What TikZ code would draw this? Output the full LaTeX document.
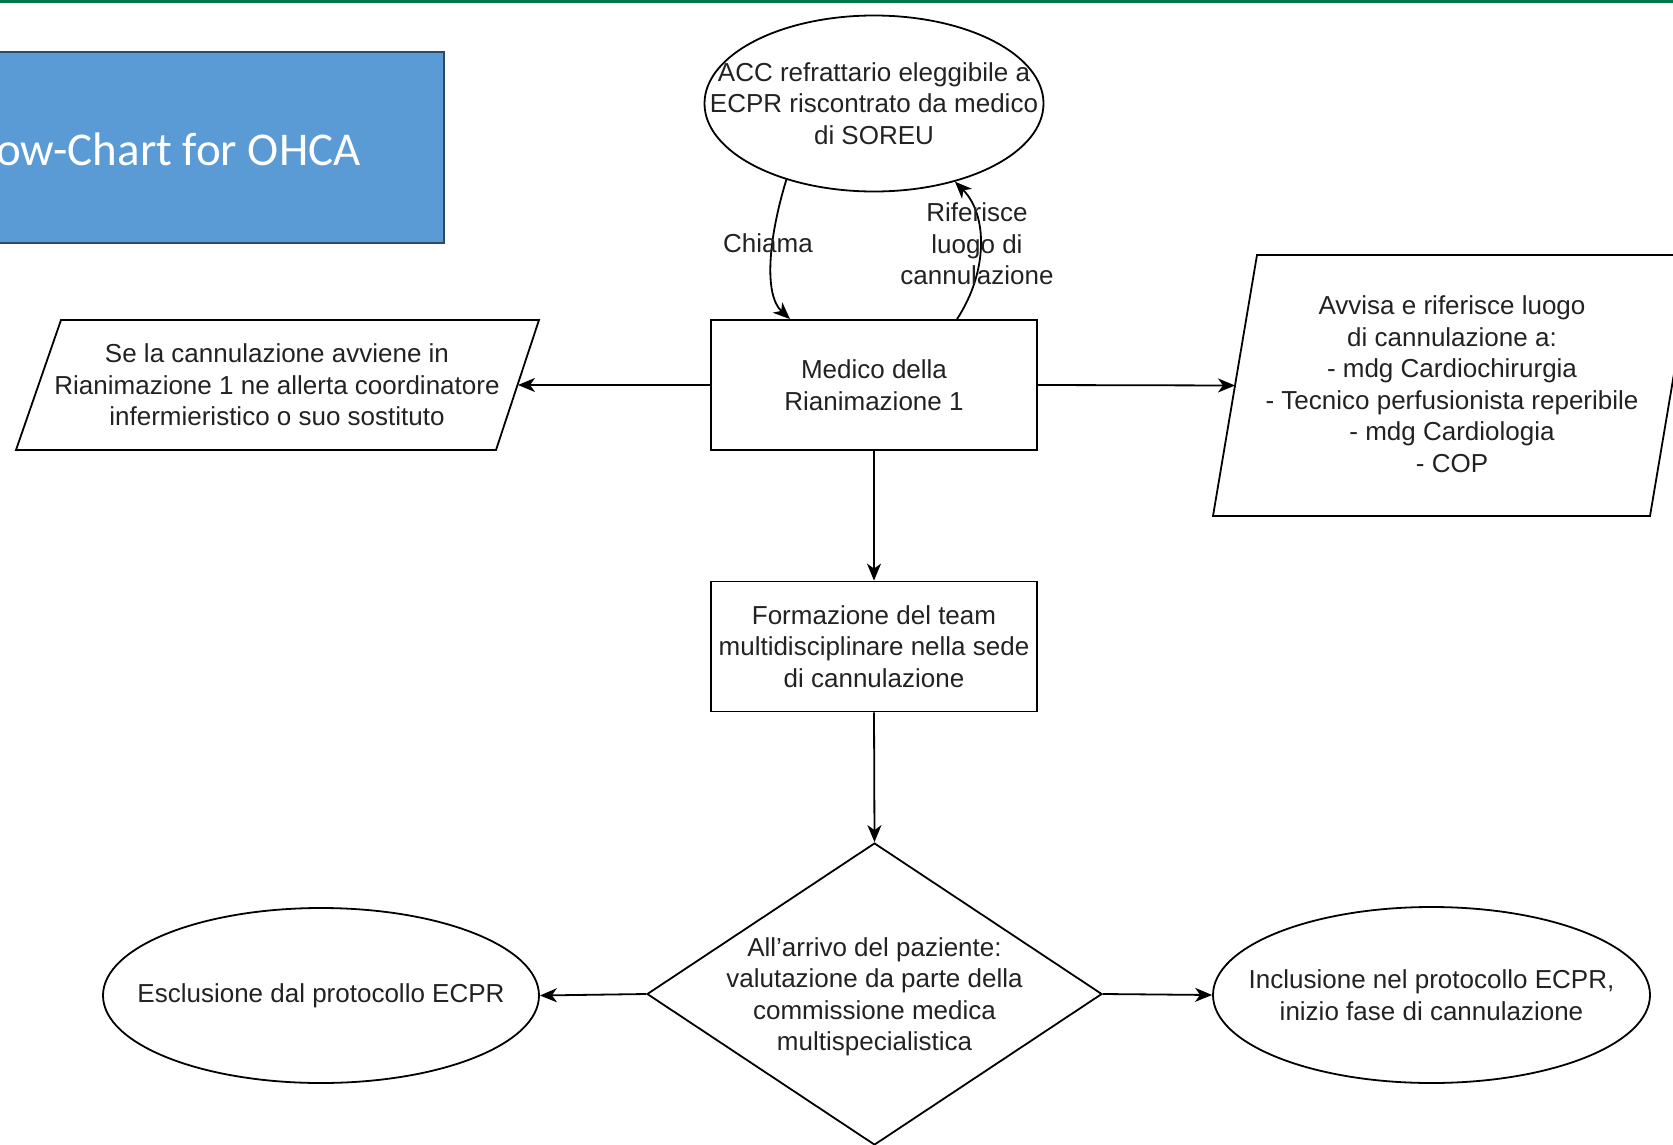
\documentclass[tikz,border=0pt]{standalone}
\usepackage{fontspec}
\setmainfont{Liberation Sans}
\newfontfamily\titlefont{Carlito}
\usetikzlibrary{shapes.geometric,arrows.meta}
\definecolor{txt}{HTML}{222222}
\definecolor{titleblue}{HTML}{5B9BD5}
\definecolor{titleedge}{HTML}{2E4A68}
\definecolor{topgreen}{HTML}{00784A}
\begin{document}
\begin{tikzpicture}[x=1pt,y=-1pt,
  every node/.style={text=txt, font=\fontsize{26}{31.5}\selectfont, align=center, inner sep=0pt},
  box/.style={draw, line width=1.8pt, minimum width=326pt, minimum height=130pt},
  oval/.style={draw, ellipse, line width=1.8pt},
  para/.style={draw, line width=1.8pt, line join=miter},
  arr/.style={line width=1.8pt, -{Stealth[length=17pt,width=14pt,inset=5pt]}},
]
\useasboundingbox (0,0) rectangle (1673,1145);
\fill[topgreen] (0,0) rectangle (1673,3);
% title
\node[fill=titleblue, draw=titleedge, line width=2.2pt, minimum width=454pt, minimum height=191pt] (title) at (217,147.5) {};
\node[anchor=base west, text=white, font=\titlefont\fontsize{47}{56}\selectfont] (titletext) at (-4,165) {ow-Chart for OHCA};
% nodes
\node[oval, minimum width=339pt, minimum height=176pt] (acc) at (874,103.5) {};
\node (acct) at (acc.center) {ACC refrattario eleggibile a\\ECPR riscontrato da medico\\di SOREU};
\node[box] (med) at (874,385) {Medico della\\Rianimazione 1};
\node[box] (form) at (874,646.5) {Formazione del team\\multidisciplinare nella sede\\di cannulazione};
\node[draw, diamond, line width=1.8pt, minimum width=455pt, minimum height=302pt] (dec) at (874.5,994) {};
\node (dect) at ([yshift=-3pt]dec.center) {All'arrivo del paziente:\\valutazione da parte della\\commissione medica\\multispecialistica};
\node[oval, minimum width=436pt, minimum height=175pt] (excl) at (321,995.5) {};
\node (exclt) at (excl.center) {Esclusione dal protocollo ECPR};
\node[oval, minimum width=437pt, minimum height=176pt] (incl) at (1431.5,995) {};
\node (inclt) at (incl.center) {Inclusione nel protocollo ECPR,\\inizio fase di cannulazione};
% parallelograms
\draw[para] (61,320) -- (539,320) -- (496,450) -- (16,450) -- cycle;
\node (alert) at (277,385) {Se la cannulazione avviene in\\Rianimazione 1 ne allerta coordinatore\\infermieristico o suo sostituto};
\coordinate (alertR) at (518,385);
\draw[para] (1257,255) -- (1694,255) -- (1650,516) -- (1213,516) -- cycle;
\node (avvisa) at (1452,384) {Avvisa e riferisce luogo\\di cannulazione a:\\- mdg Cardiochirurgia\\- Tecnico perfusionista reperibile\\- mdg Cardiologia\\- COP};
\coordinate (avvisaL) at (1235,385.5);
% connectors
\draw[arr] (med.east) -- (avvisaL);
\draw[arr] (med.west) -- (alertR);
\draw[arr] (med.south) -- (form.north);
\draw[arr] (form.south) -- (dec.north);
\draw[arr] (dec.west) -- (excl.east);
\draw[arr] (dec.east) -- (incl.west);
\draw[arr] (acc.221) .. controls (768,240) and (764,295) .. ([xshift=-84pt]med.north);
\draw[arr] ([xshift=83pt]med.north) .. controls (988,272) and (988,215) .. (acc.316);
\node (chiama) at (768,243) {Chiama};
\node (rif) at (977,244) {Riferisce\\luogo di\\cannulazione};
\end{tikzpicture}
\end{document}
